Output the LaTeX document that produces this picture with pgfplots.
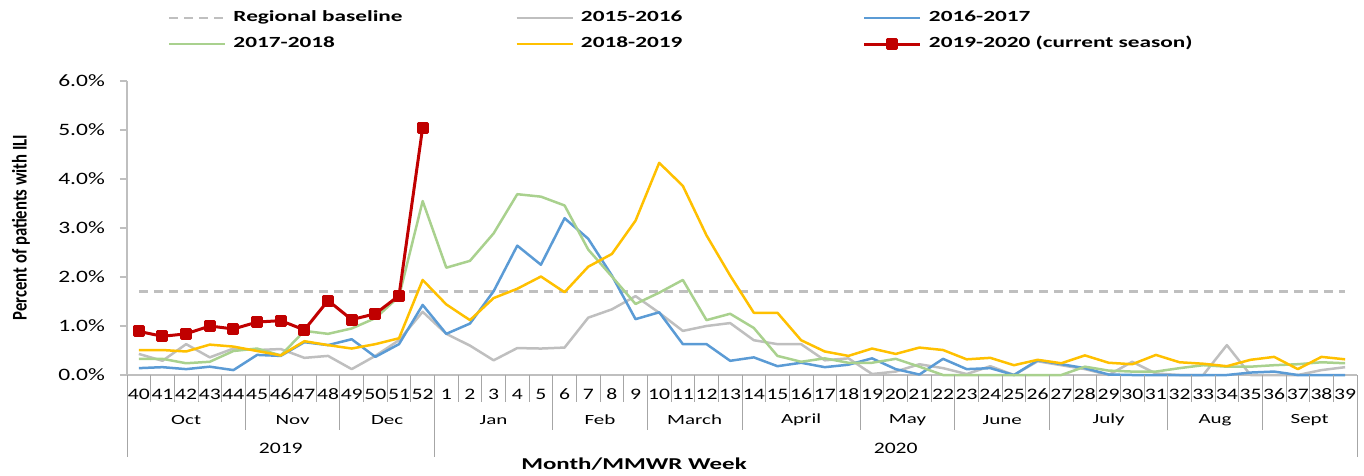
\documentclass[border=0pt]{standalone}
\usepackage{graphicx}
\usepackage{pgfplots}
\pgfplotsset{compat=1.18}
\usepackage{pgfplotstable}
\usepackage{fontspec}
\setmainfont{Carlito}
\newfontfamily\stretchA{Carlito}[FakeStretch=1.35]
\newfontfamily\stretchB{Carlito}[FakeStretch=1.5]
\newcommand\WEEK{\stretchA\fontsize{16}{18}\selectfont}
\newcommand\TICK{\stretchA\fontsize{17.4}{20}\selectfont}
\newcommand\MON{\stretchB\fontsize{14}{16}\selectfont}
\newcommand\YEAR{\stretchA\fontsize{16}{18}\selectfont}
\newcommand\LEG{\stretchB\bfseries\fontsize{15.5}{18}\selectfont}
\newcommand\XLAB{\stretchB\bfseries\fontsize{16.6}{19}\selectfont}
\newcommand\YLAB{\bfseries\fontsize{16.7}{19}\selectfont}

\definecolor{cBase}{HTML}{BFBFBF}
\definecolor{cGray}{HTML}{BFBFBF}
\definecolor{cBlue}{HTML}{5B9BD5}
\definecolor{cGreen}{HTML}{A9D18E}
\definecolor{cYellow}{HTML}{FFC000}
\definecolor{cRed}{HTML}{C00000}
\definecolor{cAxis}{HTML}{BFBFBF}
\definecolor{cSep}{HTML}{A6A6A6}

\pgfplotstableread{
x gray blue green yellow
0 0.43 0.14 0.33 0.51
1 0.29 0.16 0.33 0.51
2 0.63 0.12 0.24 0.48
3 0.36 0.17 0.27 0.62
4 0.54 0.10 0.49 0.58
5 0.51 0.41 0.54 0.49
6 0.53 0.39 0.40 0.40
7 0.35 0.67 0.90 0.69
8 0.39 0.61 0.84 0.61
9 0.12 0.73 0.95 0.54
10 0.39 0.37 1.16 0.63
11 0.71 0.63 1.60 0.75
12 1.29 1.43 3.55 1.94
13 0.84 0.84 2.19 1.44
14 0.60 1.05 2.33 1.12
15 0.30 1.71 2.89 1.57
16 0.55 2.64 3.69 1.76
17 0.54 2.25 3.64 2.01
18 0.56 3.20 3.46 1.69
19 1.17 2.78 2.56 2.21
20 1.34 2.03 2.01 2.47
21 1.61 1.14 1.45 3.15
22 1.27 1.28 1.68 4.33
23 0.90 0.63 1.94 3.86
24 1.00 0.63 1.12 2.85
25 1.06 0.29 1.25 2.03
26 0.71 0.36 0.96 1.27
27 0.63 0.18 0.39 1.27
28 0.63 0.25 0.27 0.71
29 0.30 0.16 0.34 0.48
30 0.34 0.21 0.25 0.39
31 0.02 0.34 0.25 0.54
32 0.07 0.12 0.33 0.43
33 0.22 0.01 0.17 0.56
34 0.14 0.33 0.00 0.51
35 0.02 0.12 0.00 0.32
36 0.18 0.14 0.00 0.35
37 0.00 0.00 0.00 0.20
38 0.28 0.30 0.00 0.31
39 0.20 0.22 0.00 0.24
40 0.12 0.14 0.17 0.40
41 0.00 0.01 0.09 0.25
42 0.27 0.00 0.07 0.22
43 0.03 0.00 0.07 0.41
44 0.00 0.00 0.14 0.26
45 0.00 0.00 0.20 0.23
46 0.61 0.00 0.17 0.18
47 0.00 0.05 0.17 0.31
48 0.00 0.07 0.20 0.37
49 0.00 0.00 0.22 0.12
50 0.10 0.00 0.26 0.37
51 0.16 0.00 0.24 0.32
}\datatable

\pgfplotstableread{
x red
0 0.89
1 0.79
2 0.84
3 1.00
4 0.94
5 1.08
6 1.11
7 0.92
8 1.52
9 1.13
10 1.25
11 1.62
12 5.05
}\redtable

\begin{document}
\begin{tikzpicture}
\useasboundingbox (-127pt,-100pt) rectangle (1237pt,375pt);
\begin{axis}[
  at={(0pt,0pt)}, anchor=south west,
  scale only axis, width=1230pt, height=294pt,
  xmin=-0.5, xmax=51.5, ymin=0, ymax=6,
  clip=false,
  axis x line*=bottom, axis y line*=left,
  axis line style={draw=cAxis, line width=1.2pt},
  xtick={0,...,51},
  xticklabels={40,41,42,43,44,45,46,47,48,49,50,51,52,1,2,3,4,5,6,7,8,9,10,11,12,13,14,15,16,17,18,19,20,21,22,23,24,25,26,27,28,29,30,31,32,33,34,35,36,37,38,39},
  x tick label style={font=\WEEK, anchor=center, inner sep=0pt, yshift=-12pt},
  xtick style={draw=none},
  ytick={0,1,...,6},
  yticklabel={\pgfmathprintnumber[fixed,fixed zerofill,precision=1,assume math mode=true]{\tick}\%},
  y tick label style={font=\TICK, anchor=east, inner sep=0pt, xshift=-15pt},
  ytick style={draw=cAxis, line width=1.2pt},
  tick align=outside, major tick length=7pt,
  xlabel={Month/MMWR Week},
  ylabel={\scalebox{1}[1.25]{Percent of patients with ILI}},
  every axis x label/.style={at={(axis description cs:0.4122,-0.3027)}, anchor=center, font=\XLAB},
  every axis y label/.style={at={(axis description cs:-0.0862,0.5017)}, rotate=90, anchor=center, font=\YLAB},
  legend columns=3,
  legend cell align=left,
  legend style={draw=none, fill=none, at={(axis description cs:0.03333,1.2398)}, anchor=north west,
    inner sep=0pt, outer sep=0pt, row sep=11pt, column sep=0pt, font=\LEG,
    nodes={inner sep=0pt, text height=11pt, text depth=4pt},
    /tikz/every odd column/.append style={column sep=7pt}},
  legend image code/.code={\draw[mark repeat=2, mark phase=2, #1] plot coordinates {(0pt,0pt) (28pt,0pt) (56pt,0pt)};},
  every axis plot/.append style={line join=round},
]
\addplot[cBase, line width=2.5pt, dash pattern=on 9pt off 6pt] coordinates {(0,1.70) (51,1.70)};
\addlegendentry{\makebox[282pt][l]{Regional baseline}}
\addplot[cGray, line width=2.5pt] table[x=x, y=gray] {\datatable};
\addlegendentry{\makebox[282pt][l]{2015-2016}}
\addplot[cBlue, line width=2.5pt] table[x=x, y=blue] {\datatable};
\addlegendentry{\makebox[282pt][l]{2016-2017}}
\addplot[cGreen, line width=2.5pt] table[x=x, y=green] {\datatable};
\addlegendentry{\makebox[282pt][l]{2017-2018}}
\addplot[cYellow, line width=2.5pt] table[x=x, y=yellow] {\datatable};
\addlegendentry{\makebox[282pt][l]{2018-2019}}
\addplot[cRed, line width=3pt, mark=square*, mark size=4.5pt, mark options={solid}] table[x=x, y=red] {\redtable};
\addlegendentry{\makebox[282pt][l]{2019-2020 (current season)}}

% category separators
\pgfplotsinvokeforeach{-0.5,0.5,...,51.5}{\draw[cSep, line width=0.8pt] (axis cs:#1,0) -- ++(0pt,-27pt);}
\pgfplotsinvokeforeach{-0.5,4.5,8.5,12.5,17.5,21.5,25.5,30.5,34.5,38.5,43.5,47.5,51.5}{\draw[cSep, line width=0.8pt] (axis cs:#1,0) -- ++(0pt,-55pt);}
\pgfplotsinvokeforeach{-0.5,12.5,51.5}{\draw[cSep, line width=0.8pt] (axis cs:#1,0) -- ++(0pt,-82pt);}
% month labels
\node[font=\MON, yshift=-45pt] at (axis cs:2,0) {Oct};
\node[font=\MON, yshift=-45pt] at (axis cs:6.5,0) {Nov};
\node[font=\MON, yshift=-45pt] at (axis cs:10.5,0) {Dec};
\node[font=\MON, yshift=-45pt] at (axis cs:15,0) {Jan};
\node[font=\MON, yshift=-45pt] at (axis cs:19.5,0) {Feb};
\node[font=\MON, yshift=-45pt] at (axis cs:23.5,0) {March};
\node[font=\MON, yshift=-45pt] at (axis cs:28,0) {April};
\node[font=\MON, yshift=-45pt] at (axis cs:32.5,0) {May};
\node[font=\MON, yshift=-45pt] at (axis cs:36.5,0) {June};
\node[font=\MON, yshift=-45pt] at (axis cs:41,0) {July};
\node[font=\MON, yshift=-45pt] at (axis cs:45.5,0) {Aug};
\node[font=\MON, yshift=-45pt] at (axis cs:49.5,0) {Sept};
% year labels
\node[font=\YEAR, yshift=-73pt] at (axis cs:6,0) {2019};
\node[font=\YEAR, yshift=-73pt] at (axis cs:32,0) {2020};
\end{axis}
\end{tikzpicture}
\end{document}
